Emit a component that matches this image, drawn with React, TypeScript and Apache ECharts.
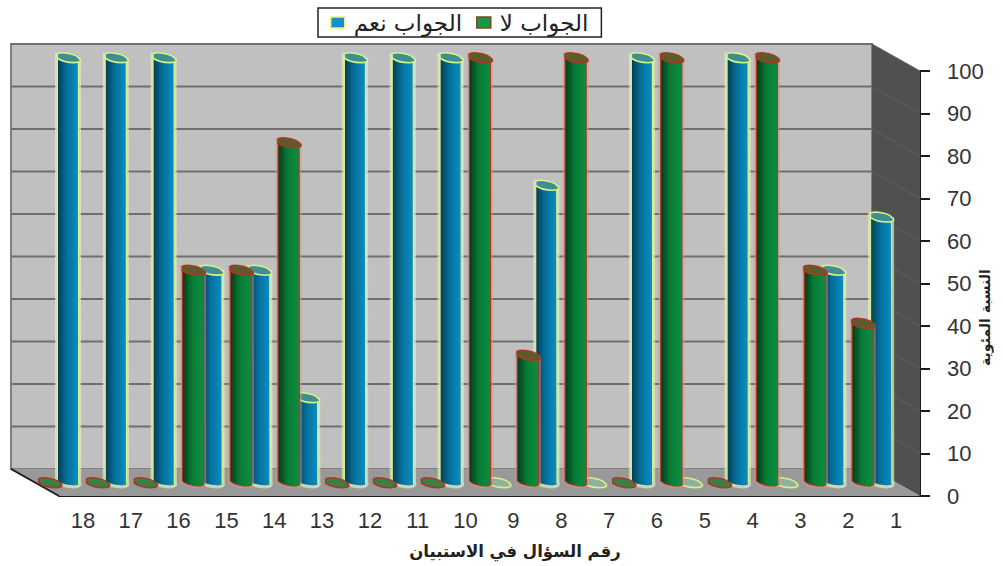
import React, { useEffect, useRef } from "react";
import * as echarts from "echarts";

// Question numbers, drawn right to left on an inverted axis
const questions = ["1","2","3","4","5","6","7","8","9","10","11","12","13","14","15","16","17","18"];
// Percentage answering yes / no for each question
const yesValues = [62.5,50,0,100,0,100,0,70,0,100,100,100,20,50,50,100,100,100];
const noValues = [37.5,50,100,0,100,0,100,30,100,0,0,0,80,50,50,0,0,0];
const valueTicks = [10,20,30,40,50,60,70,80,90,100];

const YES_NAME = "الجواب نعم";
const NO_NAME = "الجواب لا";
const X_TITLE = "رقم السؤال في الاستبيان";
const Y_TITLE = "النسبة المئوية";

const ARABIC_FONT = "'DejaVu Sans', sans-serif";
const DIGIT_FONT = "'Liberation Sans', Arial, sans-serif";

// Oblique projection of the chart box: how far the back plane is shifted
const DEPTH_X = 48;
const DEPTH_Y = 27;
// Ellipse tilt of the cylinder caps
const TILT_DEG = 12;
const TILT = (TILT_DEG * Math.PI) / 180;

type Skin = { stops: string[]; edge: string; halo: string; cap: string; flat: string };
const yesSkin: Skin = {
  stops: ["#043c52", "#06709c", "#0a90c6"],
  edge: "#d6f28a",
  halo: "rgba(232,240,190,0.65)",
  cap: "#3f8f92",
  flat: "#8fb09a",
};
const noSkin: Skin = {
  stops: ["#033a1a", "#077c36", "#0b8f40"],
  edge: "#a83a24",
  halo: "rgba(214,150,132,0.5)",
  cap: "#5f5a2c",
  flat: "#3c7f45",
};

// One cylinder standing at mid depth of the box
function cylinderItem(skin: Skin, shiftX: number) {
  return (params: any, api: any) => {
    const idx = api.value(0);
    const top = api.coord([idx, api.value(1)]);
    const base = api.coord([idx, 0]);
    const bandWidth = api.size([1, 0])[0];
    const rx = bandWidth * 0.225;
    const ry = 3.3;
    const cx = top[0] + shiftX;
    const topY = top[1] - DEPTH_Y / 2 + 0.5;
    const baseY = base[1] - DEPTH_Y / 2 + 0.5;
    const dx = rx * Math.cos(TILT);
    const dy = rx * Math.sin(TILT);
    const capPath =
      `M${cx - dx} ${topY - dy}A${rx} ${ry} ${TILT_DEG} 1 1 ${cx + dx} ${topY + dy}` +
      `A${rx} ${ry} ${TILT_DEG} 1 1 ${cx - dx} ${topY - dy}Z`;
    const bodyPath =
      `M${cx - dx} ${topY - dy}L${cx - dx} ${baseY - dy}` +
      `A${rx} ${ry} ${TILT_DEG} 0 0 ${cx + dx} ${baseY + dy}` +
      `L${cx + dx} ${topY + dy}Z`;
    const standing = api.value(1) > 0;
    const children: any[] = [];
    if (standing) {
      children.push(
        { type: "path", shape: { pathData: bodyPath }, style: { fill: "none", stroke: skin.halo, lineWidth: 5 } },
        {
          type: "path",
          shape: { pathData: bodyPath },
          style: {
            fill: new echarts.graphic.LinearGradient(0, 0, 1, 0, [
              { offset: 0, color: skin.stops[0] },
              { offset: 0.45, color: skin.stops[1] },
              { offset: 1, color: skin.stops[2] },
            ]),
            stroke: skin.edge,
            lineWidth: 1.2,
          },
        }
      );
    }
    children.push({
      type: "path",
      shape: { pathData: capPath },
      style: { fill: standing ? skin.cap : skin.flat, stroke: skin.edge, lineWidth: 1.6 },
    });
    return { type: "group", children };
  };
}

// Back wall, side wall, floor and their value lines
function roomItem(params: any, api: any) {
  const box = params.coordSys;
  const left = box.x;
  const right = box.x + box.width;
  const top = box.y;
  const bottom = box.y + box.height;
  const bl = left - DEPTH_X;
  const br = right - DEPTH_X;
  const bt = top - DEPTH_Y;
  const bb = bottom - DEPTH_Y;
  const children: any[] = [
    { type: "rect", shape: { x: bl, y: bt, width: br - bl, height: bb - bt }, style: { fill: "#c0c0c0", stroke: "#808080", lineWidth: 2 } },
    { type: "polygon", shape: { points: [[br, bt], [right, top], [right, bottom], [br, bb]] }, style: { fill: "#505050" } },
    { type: "polygon", shape: { points: [[bl, bb], [br, bb], [right, bottom], [left, bottom]] }, style: { fill: "#999999" } },
    { type: "line", shape: { x1: bl, y1: bb, x2: left, y2: bottom }, style: { stroke: "#1c1c1c", lineWidth: 2 } },
  ];
  valueTicks.forEach((v) => {
    const y = api.coord([0, v])[1];
    children.push(
      { type: "line", shape: { x1: bl, y1: y - DEPTH_Y, x2: br, y2: y - DEPTH_Y }, style: { stroke: "#6e6e6e", lineWidth: 2 } },
      { type: "line", shape: { x1: br, y1: y - DEPTH_Y, x2: right, y2: y }, style: { stroke: "#606060", lineWidth: 1 } }
    );
  });
  return { type: "group", children };
}

export default function App() {
  const ref = useRef<HTMLDivElement>(null);
  useEffect(() => {
    const chart = echarts.init(ref.current!, null, { renderer: "svg" });
    chart.setOption({
      animation: false,
      backgroundColor: "#ffffff",
      grid: { left: 59, right: 83, top: 71, bottom: 70, outerBoundsMode: "none", containLabel: false },
      legend: {
        left: 318,
        top: 8,
        padding: [3, 13, 3, 12],
        itemGap: 14,
        itemWidth: 14,
        itemHeight: 11,
        icon: "rect",
        backgroundColor: "#ffffff",
        borderColor: "#222222",
        borderWidth: 1.5,
        borderRadius: 0,
        textStyle: { fontFamily: ARABIC_FONT, fontSize: 23, color: "#222222", padding: [0, 0, 0, 4] },
        data: [
          { name: YES_NAME, itemStyle: { color: "#1390cf", borderColor: "#e8f27a", borderWidth: 1.5 } },
          { name: NO_NAME, itemStyle: { color: "#119a48", borderColor: "#7d4a22", borderWidth: 1.5 } },
        ],
      },
      xAxis: {
        type: "category",
        inverse: true,
        data: questions,
        name: X_TITLE,
        nameLocation: "middle",
        nameGap: 47,
        nameTextStyle: { fontFamily: ARABIC_FONT, fontSize: 16.5, fontWeight: "bold", color: "#222222", padding: [0, 0, 0, 51] },
        axisLine: { onZero: false, lineStyle: { color: "#1c1c1c", width: 2 } },
        axisTick: { length: 6, lineStyle: { color: "#1c1c1c", width: 2 } },
        axisLabel: { margin: 13, fontFamily: DIGIT_FONT, fontSize: 22, color: "#333333", interval: 0 },
      },
      yAxis: {
        type: "value",
        position: "right",
        min: 0,
        max: 100,
        interval: 10,
        name: Y_TITLE,
        nameLocation: "middle",
        nameGap: 58,
        nameMoveOverlap: false,
        nameRotate: 90,
        nameTextStyle: { fontFamily: ARABIC_FONT, fontSize: 14, fontWeight: "bold", color: "#222222", padding: [0, 68, 0, 0] },
        axisLine: { show: true, onZero: false, lineStyle: { color: "#1c1c1c", width: 2 } },
        axisTick: { show: true, length: 10, lineStyle: { color: "#1c1c1c", width: 2 } },
        axisLabel: { margin: 27, fontFamily: DIGIT_FONT, fontSize: 22, color: "#333333" },
        splitLine: { show: false },
      },
      series: [
        { type: "custom", name: "room", z: 1, silent: true, data: [[0, 0]], encode: { x: 0, y: 1 }, renderItem: roomItem },
        {
          type: "custom",
          name: YES_NAME,
          z: 2,
          silent: true,
          itemStyle: { color: "#1390cf" },
          encode: { x: 0, y: 1 },
          data: yesValues.map((v, i) => [i, v]),
          renderItem: cylinderItem(yesSkin, -15),
        },
        {
          type: "custom",
          name: NO_NAME,
          z: 3,
          silent: true,
          itemStyle: { color: "#119a48" },
          encode: { x: 0, y: 1 },
          data: noValues.map((v, i) => [i, v]),
          renderItem: cylinderItem(noSkin, -33.5),
        },
      ],
    });
    return () => chart.dispose();
  }, []);
  return (
    <div
      ref={ref}
      style={{ position: "fixed", left: 0, top: 0, width: 1003, height: 566 }}
    />
  );
}
